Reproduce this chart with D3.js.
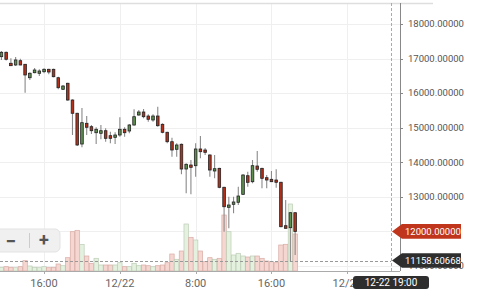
<!DOCTYPE html>
<html>
<head>
<meta charset="utf-8">
<script src="https://cdn.jsdelivr.net/npm/d3@7"></script>
<style>
body { margin: 0; background: #fff; }
svg { display: block; font-family: Roboto, "Noto Sans", sans-serif; }
</style>
</head>
<body>
<script>
// 30 minute candles, 21-22 Dec 2017
var times = [
	"2017-12-21 11:30", "2017-12-21 12:00", "2017-12-21 12:30", "2017-12-21 13:00", "2017-12-21 13:30",
	"2017-12-21 14:00", "2017-12-21 14:30", "2017-12-21 15:00", "2017-12-21 15:30", "2017-12-21 16:00",
	"2017-12-21 16:30", "2017-12-21 17:00", "2017-12-21 17:30", "2017-12-21 18:00", "2017-12-21 18:30",
	"2017-12-21 19:00", "2017-12-21 19:30", "2017-12-21 20:00", "2017-12-21 20:30", "2017-12-21 21:00",
	"2017-12-21 21:30", "2017-12-21 22:00", "2017-12-21 22:30", "2017-12-21 23:00", "2017-12-21 23:30",
	"2017-12-22 00:00", "2017-12-22 00:30", "2017-12-22 01:00", "2017-12-22 01:30", "2017-12-22 02:00",
	"2017-12-22 02:30", "2017-12-22 03:00", "2017-12-22 03:30", "2017-12-22 04:00", "2017-12-22 04:30",
	"2017-12-22 05:00", "2017-12-22 05:30", "2017-12-22 06:00", "2017-12-22 06:30", "2017-12-22 07:00",
	"2017-12-22 07:30", "2017-12-22 08:00", "2017-12-22 08:30", "2017-12-22 09:00", "2017-12-22 09:30",
	"2017-12-22 10:00", "2017-12-22 10:30", "2017-12-22 11:00", "2017-12-22 11:30", "2017-12-22 12:00",
	"2017-12-22 12:30", "2017-12-22 13:00", "2017-12-22 13:30", "2017-12-22 14:00", "2017-12-22 14:30",
	"2017-12-22 15:00", "2017-12-22 15:30", "2017-12-22 16:00", "2017-12-22 16:30", "2017-12-22 17:00",
	"2017-12-22 17:30", "2017-12-22 18:00", "2017-12-22 18:30"
];

var open = [17054, 17181, 16863, 16814, 16938, 16834, 16446, 16591, 16574, 16620,
	16689, 16689, 16446, 16111, 16285, 15801, 15417, 14528, 15127, 15029,
	14855, 14838, 14913, 14769, 14722, 14789, 14954, 14905, 15078, 15367,
	15454, 15338, 15223, 15338, 15098, 14867, 14595, 14375, 14520, 13805,
	13921, 13901, 14384, 14355, 14210, 13748, 13824, 13276, 12697, 12784,
	12842, 13073, 13611, 13438, 13892, 13824, 13554, 13507, 13487, 13421,
	12165, 12107, 12541];
var high = [17219, 17205, 17008, 17045, 16996, 16843, 16603, 16727, 16689, 16718,
	16707, 16707, 16475, 16235, 16302, 15822, 15434, 15570, 15338, 15078,
	15012, 15078, 14983, 14884, 14867, 15301, 15012, 15107, 15532, 15512,
	15541, 15388, 15388, 15608, 15127, 14884, 14711, 14549, 14540, 13970,
	14066, 14549, 14760, 14413, 14230, 14210, 13843, 13294, 13004, 13004,
	13293, 13652, 13727, 14066, 14326, 13843, 13632, 13747, 13797, 13438,
	12908, 12553, 12553];
var low = [16959, 16944, 16785, 16785, 16805, 16013, 16380, 16574, 16496, 16574,
	16545, 16458, 16111, 16091, 15781, 14789, 14471, 14433, 14789, 14818,
	14528, 14665, 14595, 14549, 14528, 14740, 14740, 14838, 15058, 15347,
	15272, 15174, 15174, 15029, 14838, 14549, 14161, 14161, 13652, 13102,
	13073, 13582, 14115, 14210, 13582, 13536, 13247, 11991, 12090, 12524,
	12764, 13053, 13293, 13392, 13727, 13247, 13247, 13429, 13264, 12119,
	12080, 11124, 11318];
var close = [17181, 16979, 16794, 16959, 16814, 16525, 16574, 16669, 16640, 16689,
	16611, 16475, 16157, 16206, 15801, 15417, 14500, 15145, 15012, 14913,
	14954, 14913, 14693, 14693, 14789, 14954, 14855, 15078, 15318, 15454,
	15318, 15243, 15338, 15058, 14867, 14595, 14355, 14500, 13805, 13941,
	13854, 14384, 14306, 14288, 13776, 13814, 13276, 12714, 12764, 12851,
	13024, 13632, 13420, 13901, 13796, 13536, 13487, 13438, 13421, 12136,
	12090, 12541, 12000];
var volume = [37, 43, 37, 33, 43, 103, 50, 37, 33, 43,
	33, 37, 70, 53, 133, 393, 407, 265, 150, 77,
	127, 60, 60, 60, 60, 83, 43, 43, 77, 53,
	60, 53, 43, 53, 60, 83, 170, 117, 200, 470,
	337, 310, 200, 93, 133, 117, 127, 560, 393, 160,
	177, 150, 140, 150, 150, 127, 100, 93, 83, 260,
	267, 670, 370];

var priceTicks = [11000, 12000, 13000, 14000, 15000, 16000, 17000, 18000];
var timeTicks = ["2017-12-21 16:00", "2017-12-22 00:00", "2017-12-22 08:00", "2017-12-22 16:00", "2017-12-23 00:00"];
var timeTickLabels = ["16:00", "12/22", "8:00", "16:00", "12/23"];

var lastPrice = 12000;
var crossTime = "2017-12-23 04:37";
var crossPrice = 11158.60668;
var crossLabel = "12-22 19:00";

var width = 480;
var height = 297;
var plotRight = 400;
var plotTop = 3;
var plotBottom = 271;

var parse = d3.timeParse("%Y-%m-%d %H:%M");

var x = d3.scaleTime()
	.domain([parse("2017-12-21 11:21"), parse("2017-12-23 05:34")])
	.range([0, plotRight]);
var y = d3.scaleLinear()
	.domain([10855, 18607])
	.range([plotBottom, plotTop]);
var yVol = d3.scaleLinear()
	.domain([0, 700])
	.range([plotBottom, plotBottom - 70]);

var data = times.map(function(t, i) {
	return { t: parse(t), o: open[i], h: high[i], l: low[i], c: close[i], v: volume[i] };
});

var svg = d3.select("body").append("svg")
	.attr("width", width)
	.attr("height", height);

// grid
svg.append("g").selectAll("line")
	.data(priceTicks)
	.enter()
	.append("line")
	.attr("x1", 0)
	.attr("x2", plotRight)
	.attr("y1", function(d) { return Math.round(y(d)) + 0.5; })
	.attr("y2", function(d) { return Math.round(y(d)) + 0.5; })
	.attr("stroke", "#efefef");

svg.append("g").selectAll("line")
	.data(timeTicks)
	.enter()
	.append("line")
	.attr("x1", function(d) { return Math.round(x(parse(d))) + 0.5; })
	.attr("x2", function(d) { return Math.round(x(parse(d))) + 0.5; })
	.attr("y1", plotTop)
	.attr("y2", plotBottom)
	.attr("stroke", "#efefef");

svg.append("line")
	.attr("x1", 0).attr("x2", 433)
	.attr("y1", plotTop + 0.5).attr("y2", plotTop + 0.5)
	.attr("stroke", "#dedede")
	.attr("stroke-width", 1.3);

// volume
svg.append("g").selectAll("rect")
	.data(data)
	.enter()
	.append("rect")
	.attr("x", function(d) { return x(d.t) - 2.2; })
	.attr("y", function(d) { return yVol(d.v); })
	.attr("width", 4.4)
	.attr("height", function(d) { return plotBottom - yVol(d.v); })
	.attr("fill", function(d) { return d.c >= d.o ? "#e4f1df" : "#f5d6d1"; })
	.attr("stroke", function(d) { return d.c >= d.o ? "#bccdb6" : "#d9aca5"; })
	.attr("stroke-width", 0.7);

// crosshair
svg.append("line")
	.attr("x1", 0).attr("x2", x(parse(crossTime)))
	.attr("y1", Math.round(y(crossPrice)) + 0.5)
	.attr("y2", Math.round(y(crossPrice)) + 0.5)
	.attr("stroke", "#999")
	.attr("stroke-dasharray", "3,2");
svg.append("line")
	.attr("x1", Math.round(x(parse(crossTime))) + 0.5)
	.attr("x2", Math.round(x(parse(crossTime))) + 0.5)
	.attr("y1", plotTop).attr("y2", plotBottom)
	.attr("stroke", "#aaa")
	.attr("stroke-dasharray", "3,2");

// candles
var candles = svg.append("g").selectAll("g")
	.data(data)
	.enter()
	.append("g");

candles.append("line")
	.attr("x1", function(d) { return x(d.t); })
	.attr("x2", function(d) { return x(d.t); })
	.attr("y1", function(d) { return y(d.h); })
	.attr("y2", function(d) { return y(d.l); })
	.attr("stroke", "#8a8a8a")
	.attr("stroke-width", 1.1);

candles.append("rect")
	.attr("x", function(d) { return x(d.t) - 1.3; })
	.attr("y", function(d) { return y(Math.max(d.o, d.c)); })
	.attr("width", 2.6)
	.attr("height", function(d) { return Math.max(1.2, Math.abs(y(d.o) - y(d.c))); })
	.attr("fill", function(d) { return d.c >= d.o ? "#5e8f4f" : "#b3301a"; })
	.attr("stroke", "#222")
	.attr("stroke-width", 0.8);

// axes
svg.append("line")
	.attr("x1", 0).attr("x2", plotRight)
	.attr("y1", plotBottom + 0.5).attr("y2", plotBottom + 0.5)
	.attr("stroke", "#aaa");
svg.append("line")
	.attr("x1", plotRight + 0.5).attr("x2", plotRight + 0.5)
	.attr("y1", plotTop).attr("y2", plotBottom)
	.attr("stroke", "#888");

svg.append("g").selectAll("line")
	.data(priceTicks)
	.enter()
	.append("line")
	.attr("x1", plotRight).attr("x2", plotRight + 3)
	.attr("y1", function(d) { return Math.round(y(d)) + 0.5; })
	.attr("y2", function(d) { return Math.round(y(d)) + 0.5; })
	.attr("stroke", "#888");

// the last price label is hidden under its tag, so it is left out
svg.append("g").selectAll("text")
	.data(priceTicks.filter(function(d) { return d !== lastPrice; }))
	.enter()
	.append("text")
	.text(function(d) { return d3.format(".5f")(d); })
	.attr("x", plotRight + 8)
	.attr("y", function(d) { return y(d); })
	.attr("dy", "0.35em")
	.attr("fill", "#555")
	.attr("font-size", "9.5px");

svg.append("g").selectAll("line")
	.data(timeTicks)
	.enter()
	.append("line")
	.attr("x1", function(d) { return Math.round(x(parse(d))) + 0.5; })
	.attr("x2", function(d) { return Math.round(x(parse(d))) + 0.5; })
	.attr("y1", plotBottom).attr("y2", plotBottom + 3)
	.attr("stroke", "#aaa");

svg.append("g").selectAll("text")
	.data(timeTicks)
	.enter()
	.append("text")
	.text(function(d, i) { return timeTickLabels[i]; })
	.attr("x", function(d) { return x(parse(d)); })
	.attr("y", plotBottom + 12)
	.attr("dy", "0.35em")
	.attr("text-anchor", "middle")
	.attr("fill", "#666")
	.attr("font-size", "11px");

// zoom buttons
var zoomBox = svg.append("g");
zoomBox.append("rect")
	.attr("x", -6).attr("y", 229)
	.attr("width", 66).attr("height", 23)
	.attr("rx", 5)
	.attr("fill", "#f0f0f0")
	.attr("stroke", "#e3e3e3");
zoomBox.append("line")
	.attr("x1", 29.5).attr("x2", 29.5)
	.attr("y1", 233).attr("y2", 248)
	.attr("stroke", "#ccc");
zoomBox.append("text")
	.text("\u2212")
	.attr("x", 11).attr("y", 241)
	.attr("dy", "0.35em")
	.attr("text-anchor", "middle")
	.attr("font-size", "19px")
	.attr("font-weight", "bold")
	.attr("fill", "#555");
zoomBox.append("text")
	.text("+")
	.attr("x", 44).attr("y", 240)
	.attr("dy", "0.35em")
	.attr("text-anchor", "middle")
	.attr("font-size", "18px")
	.attr("font-weight", "bold")
	.attr("fill", "#555");

// price tags on the right axis
function tag(price, color, label) {
	var cy = y(price);
	var tipX = x(parse(crossTime)) + 1;
	var g = svg.append("g");
	g.append("path")
		.attr("d", "M" + tipX + "," + cy + "L" + (tipX + 10) + "," + (cy - 7.3) +
			"L461," + (cy - 7.3) + "L461," + (cy + 7.3) + "L" + (tipX + 10) + "," + (cy + 7.3) + "Z")
		.attr("fill", color);
	g.append("text")
		.text(label)
		.attr("x", tipX + 13)
		.attr("y", cy)
		.attr("dy", "0.35em")
		.attr("fill", "#fff")
		.attr("font-size", "9.5px");
}
tag(lastPrice, "#c0361c", d3.format(".5f")(lastPrice));
tag(crossPrice, "#2e2e2e", d3.format(".5f")(crossPrice));

// time tooltip
var cx = x(parse(crossTime));
svg.append("rect")
	.attr("x", cx - 38).attr("y", 276)
	.attr("width", 76).attr("height", 13)
	.attr("rx", 3)
	.attr("fill", "#2e2e2e");
svg.append("text")
	.text(crossLabel)
	.attr("x", cx)
	.attr("y", 282.5)
	.attr("dy", "0.35em")
	.attr("text-anchor", "middle")
	.attr("fill", "#fff")
	.attr("font-size", "10px");
</script>
</body>
</html>
